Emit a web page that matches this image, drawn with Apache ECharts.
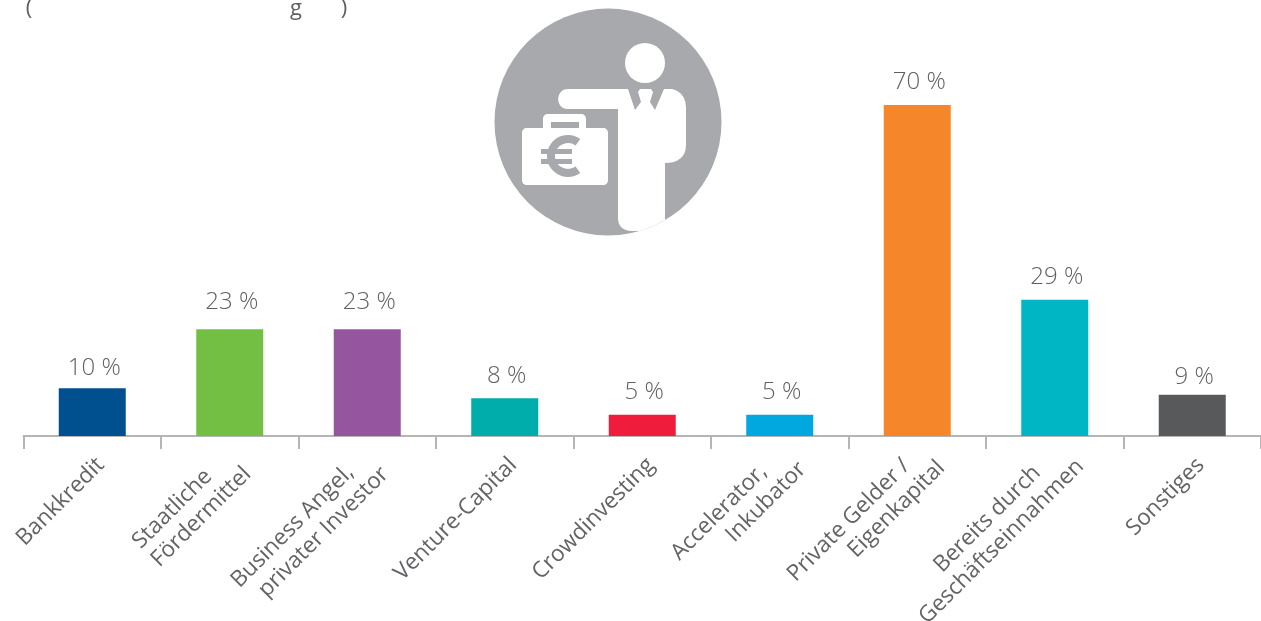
<!DOCTYPE html>
<html><head><meta charset="utf-8">
<style>html,body{margin:0;padding:0;background:#fff}#c{width:1261px;height:621px}</style>
<script src="https://cdn.jsdelivr.net/npm/echarts@6/dist/echarts.min.js"></script></head>
<body><div id="c"></div>
<script>
const categories = ["Bankkredit","Staatliche\nFördermittel","Business Angel,\nprivater Investor","Venture-Capital","Crowdinvesting","Accelerator,\nInkubator","Private Gelder /\nEigenkapital","Bereits durch\nGeschäftseinnahmen","Sonstiges"];
const values = [10.1,22.6,22.6,8,4.5,4.5,70,28.8,8.7];
const labels = ["10 %","23 %","23 %","8 %","5 %","5 %","70 %","29 %","9 %"];
const colors = ["#00508f","#72bf44","#96569f","#00adaa","#ef1c3b","#00a8df","#f6862a","#00b6c4","#58595b"];
const F = "'Open Sans','Noto Sans',sans-serif";
const G = '#a7a9ac';
// hand-set placement of the slanted labels and value labels, as in the reference
const firstLineGap = [0,5,4,0,0,5,4,6,0];
const padTop = [0,0,0,0,0,0,8,11,0];
const padRight = [12,12,12,12,12,19,21,23,12];
const labelGap = [8,15,15,10,11,11,11,11,6];
echarts.graphic.registerShape('figure', echarts.graphic.extendPath('M568 89 L628 89 L635 110 L641 102 L638 92 L640 89 L651 89 L653 92 L650 102 L655 110 L664 89 L672 89 C681 91 686 98 686 108 L686 145 C686 157 678 163 665 163 L665 220 A113.5 113.5 0 0 1 640 231 L632 231 C623 231 618 226 618 218 L618 109 L568 109 C555 109 555 89 568 89 Z',{}));
echarts.graphic.registerShape('brief', echarts.graphic.extendPath('M543 128 L543 119 C543 116 545 114 548 114 L581 114 C584 114 586 116 586 119 L586 128 L603 128 C606 128 608 130 608 133 L608 180 C608 183 606 185 603 185 L527 185 C524 185 522 183 522 180 L522 133 C522 130 524 128 527 128 Z',{}));
const chart = echarts.init(document.getElementById('c'));
const frag = (t,x)=>({type:'text',silent:true,x:x,y:-2,style:{text:t,fill:'#5f6062',font:"22px 'Open Sans',sans-serif",textAlign:'center',textVerticalAlign:'alphabetic'}});
chart.setOption({
  animation:false,
  grid:{left:23.5,right:0,top:0,bottom:185,containLabel:false,outerBoundsMode:'none'},
  xAxis:{type:'category',
    data:categories.map((c,i)=>({value:c,textStyle:{padding:[padTop[i],-padRight[i],0,0]}})),
    axisLine:{lineStyle:{color:'#b5b5b5',width:2}},
    axisTick:{show:true,length:13,lineStyle:{color:'#b5b5b5',width:2},alignWithLabel:false},
    axisLabel:{interval:0,rotate:45,margin:34,color:'#636466',fontSize:22.5,fontFamily:F,lineHeight:26,
      formatter:(v,i)=>v.replace('\n','\u00a0'.repeat(firstLineGap[i])+'\n')}},
  yAxis:{type:'value',min:0,max:92.2,show:false,splitLine:{show:false}},
  series:[{type:'bar',barWidth:67,
    data:values.map((v,i)=>({value:v,itemStyle:{color:colors[i]},label:{formatter:labels[i],distance:labelGap[i]}})),
    label:{show:true,position:'top',offset:[2,0],color:'#5f6062',fontSize:24,fontFamily:F,fontWeight:300}}],
  graphic:[
    {type:'circle',shape:{cx:608,cy:122,r:113.5},style:{fill:G},silent:true},
    {type:'circle',shape:{cx:645,cy:63,r:20},style:{fill:'#fff'},silent:true},
    {type:'figure',silent:true,style:{fill:'#fff'}},
    {type:'brief',silent:true,style:{fill:'#fff'}},
    {type:'rect',silent:true,shape:{x:551,y:122,width:28,height:6},style:{fill:G}},
    {type:'arc',silent:true,shape:{cx:568,cy:156,r:17,startAngle:-0.95,endAngle:0.95,clockwise:false},style:{stroke:G,lineWidth:8,fill:null}},
    {type:'rect',silent:true,shape:{x:541,y:149,width:31,height:5},style:{fill:G}},
    {type:'rect',silent:true,shape:{x:541,y:159,width:31,height:5},style:{fill:G}},
    frag('(',29),frag('g',296),frag(')',344)
  ]
});
</script></body></html>
